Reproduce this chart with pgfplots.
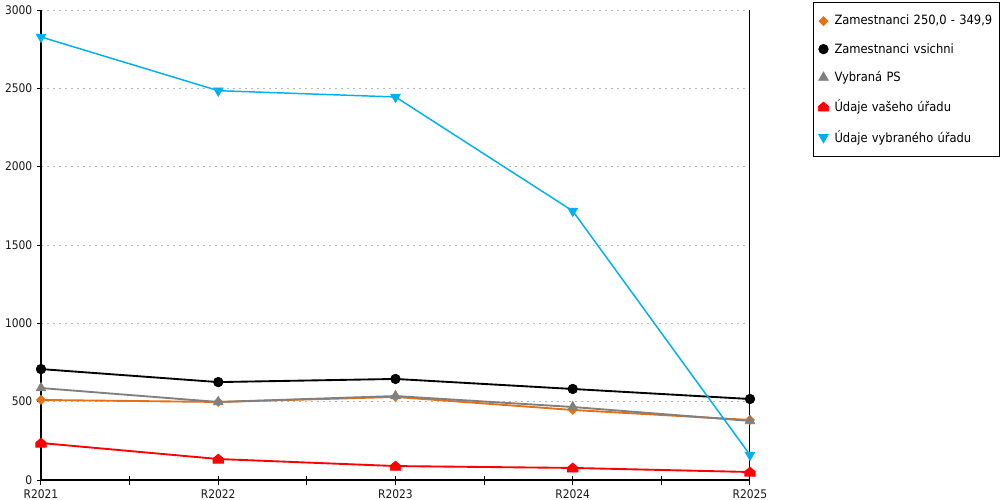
\documentclass[border=0pt]{standalone}
\usepackage{fontspec}
\setmainfont{DejaVu Sans Condensed}
\usepackage{pgfplots}
\pgfplotsset{compat=1.18}
\definecolor{corange}{RGB}{230,112,22}
\definecolor{cgray}{RGB}{128,128,128}
\definecolor{cred}{RGB}{255,0,0}
\definecolor{cblue}{RGB}{0,176,240}
\pgfdeclareplotmark{house}{%
 \pgfpathmoveto{\pgfqpoint{-\pgfplotmarksize}{-.8\pgfplotmarksize}}%
 \pgfpathlineto{\pgfqpoint{\pgfplotmarksize}{-.8\pgfplotmarksize}}%
 \pgfpathlineto{\pgfqpoint{\pgfplotmarksize}{.1\pgfplotmarksize}}%
 \pgfpathlineto{\pgfqpoint{0pt}{.95\pgfplotmarksize}}%
 \pgfpathlineto{\pgfqpoint{-\pgfplotmarksize}{.1\pgfplotmarksize}}%
 \pgfpathclose\pgfusepathqfillstroke}
\begin{document}
\begin{tikzpicture}
\useasboundingbox (-30.75pt,-15pt) rectangle (719.25pt,360pt);
\begin{axis}[
  scale only axis, width=531.75pt, height=352.5pt,
  xmin=0, xmax=4, ymin=0, ymax=3000,
  axis lines*=left,
  axis line style={line width=0.9pt},
  xtick=\empty,
  extra x ticks={0,0.5,1,1.5,2,2.5,3,3.5,4},
  extra x tick labels={R2021,,R2022,,R2023,,R2024,,R2025},
  extra x tick style={tick align=center, major tick length=6.75pt, grid=none},
  ytick={0,500,1000,1500,2000,2500,3000},
  tick align=outside, major tick length=3pt,
  tick style={line width=0.75pt, black},
  ymajorgrids,
  grid style={dash pattern=on 1.5pt off 3pt, color=black!28, line width=0.75pt},
  tick label style={font=\fontsize{8.9}{10}\selectfont, text=black!90},
  /pgf/number format/assume math mode=true,
  /pgf/number format/set thousands separator={},
  legend style={at={(1.08886,1.01702)}, anchor=north west, draw=black, line width=0.75pt,
    font=\fontsize{9.6}{11}\selectfont, inner xsep=3.5pt, inner ysep=8.5pt,
    row sep=10.3pt, column sep=4.25pt,
    nodes={inner xsep=0pt, inner ysep=1pt, text width=120.25pt, align=left}},
  legend cell align=left,
  legend image code/.code={\path[draw=none,fill=none] (-4pt,-3.5pt) (4pt,3.5pt);
     \draw[#1] plot[only marks] coordinates {(0pt,0pt)};},
]
\addplot[corange, line width=1.4pt, mark=square*, mark size=2.4pt, mark options={solid, rotate=45, fill=corange, draw=corange, line width=0.5pt}]
  coordinates {(0,511) (1,498) (2,530) (3,447) (4,383)};
\addlegendentry{Zamestnanci 250,0 - 349,9}
\addplot[black, line width=1.4pt, mark=*, mark size=3.6pt, mark options={solid, fill=black, draw=black, line width=0.5pt}]
  coordinates {(0,708) (1,625) (2,645) (3,581) (4,517)};
\addlegendentry{Zamestnanci vsichni}
\addplot[cgray, line width=1.4pt, mark=triangle*, mark size=4.2pt, mark options={solid, fill=cgray, draw=cgray, line width=0.5pt}]
  coordinates {(0,587) (1,498) (2,536) (3,466) (4,377)};
\addlegendentry{Vybraná PS}
\addplot[cred, line width=1.4pt, mark=house, mark size=3.9pt, mark options={solid, fill=cred, draw=cred, line width=0.5pt}]
  coordinates {(0,236) (1,134) (2,89) (3,77) (4,51)};
\addlegendentry{Údaje vašeho úřadu}
\addplot[cblue, line width=1.1pt, mark=triangle*, mark size=4.2pt, mark options={solid, rotate=180, fill=cblue, draw=cblue, line width=0.5pt}]
  coordinates {(0,2828) (1,2485) (2,2445) (3,1717) (4,160)};
\addlegendentry{Údaje vybraného úřadu}
\draw[line width=0.9pt, black] (rel axis cs:1,0) -- (rel axis cs:1,1);
\end{axis}
\end{tikzpicture}
\end{document}
